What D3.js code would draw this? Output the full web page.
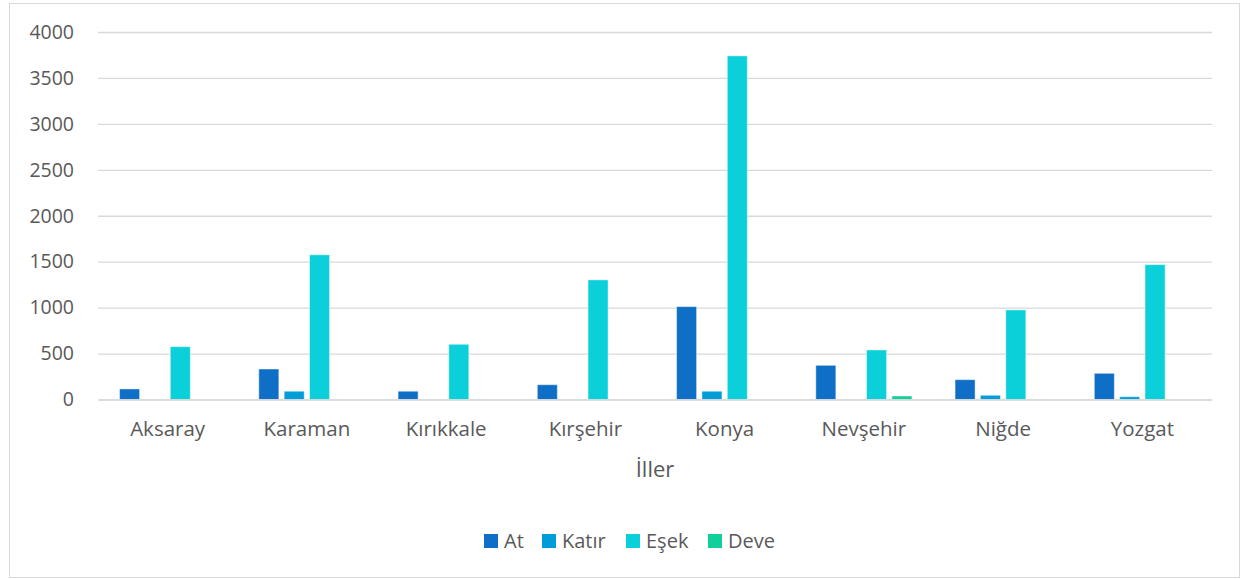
<!DOCTYPE html>
<html><head><meta charset="utf-8">
<script src="https://cdn.jsdelivr.net/npm/d3@7"></script>
<style>body{margin:0;background:#fff}svg{display:block}</style>
</head><body><svg id="c" width="1241" height="579"></svg>
<script>
const categories = ["Aksaray","Karaman","Kırıkkale","Kırşehir","Konya","Nevşehir","Niğde","Yozgat"];
const seriesNames = ["At","Katır","Eşek","Deve"];
const atValues    = [115, 332, 90, 161, 1011, 372, 216, 285];
const katirValues = [0, 90, 0, 0, 90, 0, 46, 30];
const esekValues  = [575, 1575, 601, 1302, 3740, 539, 975, 1468];
const deveValues  = [0, 0, 0, 0, 0, 38, 0, 0];
const yTicks = [0,500,1000,1500,2000,2500,3000,3500,4000];
const colors = ["#0F6FC6","#009DD9","#0BD0D9","#10CF9B"];
const xTitle = "İller";

const series = [atValues, katirValues, esekValues, deveValues];
const svg = d3.select("#c");
const font = "'Open Sans', sans-serif";
svg.append("rect").attr("x",9.5).attr("y",3.5).attr("width",1230).attr("height",574)
  .attr("fill","#fff").attr("stroke","#d9d9d9").attr("stroke-width",1);

const L=98, R=1212, T=32, B=399.5;
const x = d3.scaleBand().domain(categories).range([L,R]).paddingInner(0).paddingOuter(0);
const xs = d3.scaleBand().domain(seriesNames).range([0,x.bandwidth()]).paddingInner(0.21).paddingOuter(0.85);
const y = d3.scaleLinear().domain([0,4000]).range([B,T]);

// gridlines
const yAxis = d3.axisLeft(y).tickValues(yTicks).tickSize(-(R-L)).tickPadding(24).tickFormat(d3.format("d"));
const ga = svg.append("g").attr("transform",`translate(${L},0)`).call(yAxis);
ga.select(".domain").remove();
ga.selectAll(".tick line").attr("stroke","#d9d9d9").attr("stroke-width",1.3);
ga.selectAll(".tick text").attr("fill","#595959").style("font-family",font).style("font-size","19.5px");

// bars
series.forEach((vals,si)=>{
  svg.append("g").selectAll("rect").data(vals).join("rect")
    .attr("x",(d,i)=>x(categories[i])+xs(seriesNames[si]))
    .attr("y",d=>y(d))
    .attr("width",xs.bandwidth())
    .attr("height",d=>B-y(d))
    .attr("fill",colors[si])
    .attr("stroke","rgba(255,255,255,0.45)").attr("stroke-width",1);
});

// x axis
const xAxis = d3.axisBottom(x).tickSize(0).tickPadding(22);
const gx = svg.append("g").attr("transform",`translate(0,${B})`).call(xAxis);
gx.select(".domain").attr("stroke","#d9d9d9").attr("stroke-width",1.3);
gx.selectAll(".tick text").attr("fill","#595959").style("font-family",font).style("font-size","20.5px");

svg.append("text").attr("x",(L+R)/2).attr("y",477).attr("text-anchor","middle")
  .attr("fill","#595959").style("font-family",font).style("font-size","22px").text(xTitle);

// legend
const legX = [484, 542, 626, 708];
const lg = svg.append("g");
seriesNames.forEach((n,i)=>{
  lg.append("rect").attr("x",legX[i]).attr("y",534).attr("width",14).attr("height",14).attr("fill",colors[i]);
  lg.append("text").attr("x",legX[i]+20).attr("y",548).attr("fill","#595959")
    .style("font-family",font).style("font-size","20px").text(n);
});
</script></body></html>
